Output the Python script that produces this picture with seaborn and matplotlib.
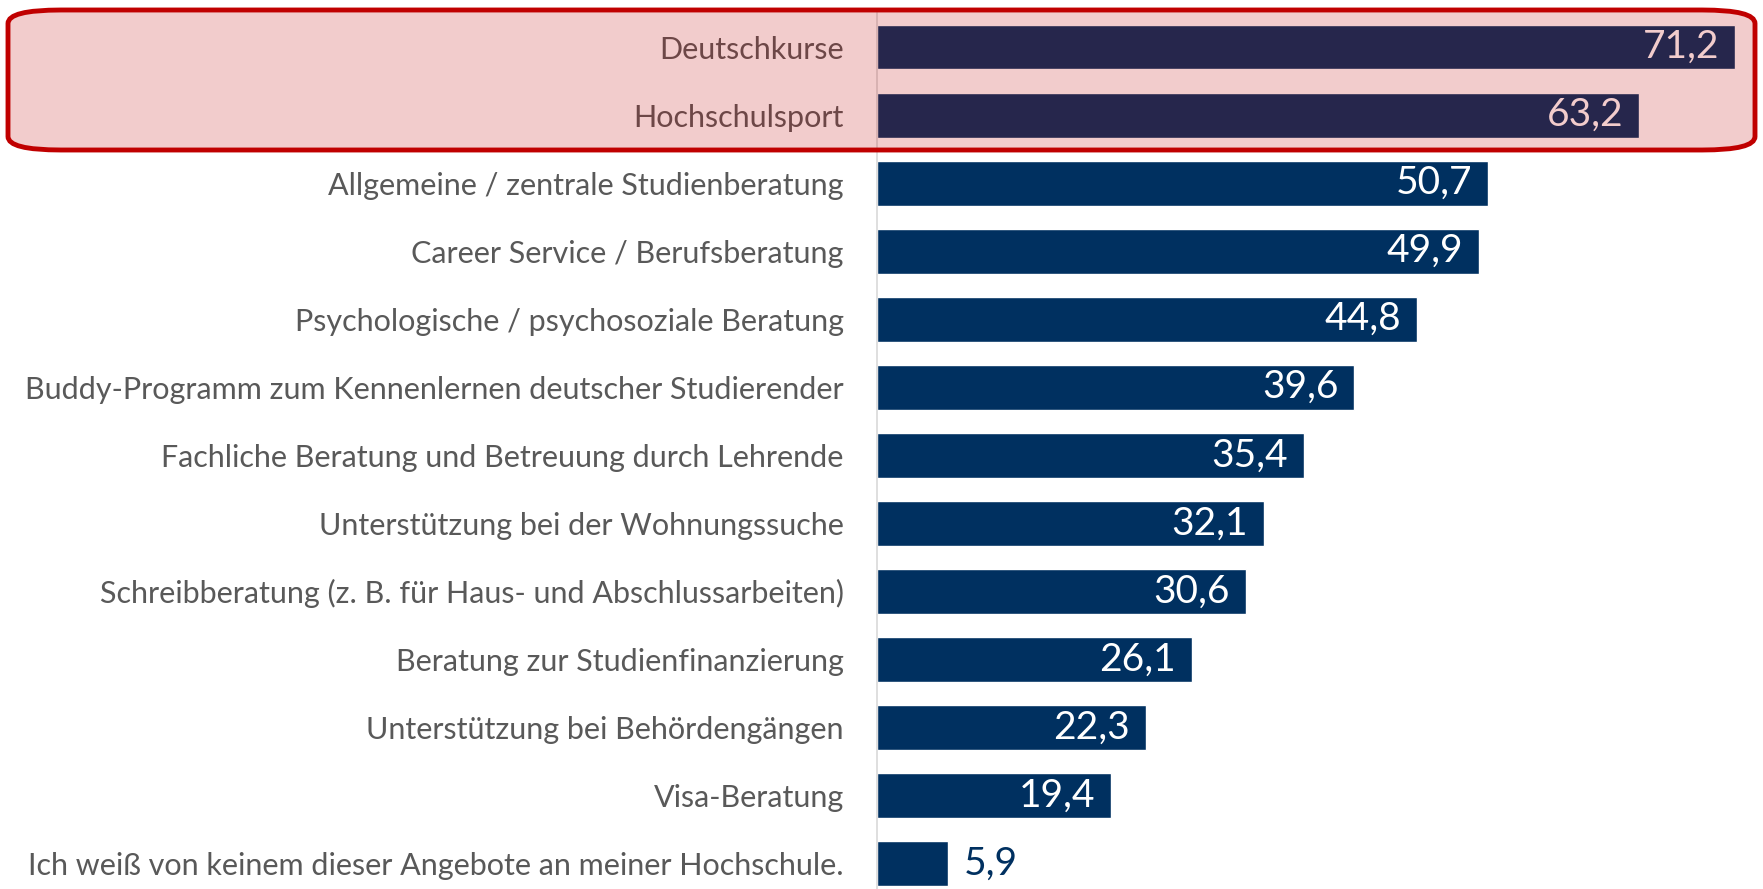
import matplotlib
matplotlib.use("Agg")
import matplotlib.pyplot as plt
from matplotlib.patches import FancyBboxPatch
import seaborn as sns
import pandas as pd

categories = [
    "Deutschkurse",
    "Hochschulsport",
    "Allgemeine / zentrale Studienberatung",
    "Career Service / Berufsberatung",
    "Psychologische / psychosoziale Beratung",
    "Buddy-Programm zum Kennenlernen deutscher Studierender",
    "Fachliche Beratung und Betreuung durch Lehrende",
    "Unterstützung bei der Wohnungssuche",
    "Schreibberatung (z. B. für Haus- und Abschlussarbeiten)",
    "Beratung zur Studienfinanzierung",
    "Unterstützung bei Behördengängen",
    "Visa-Beratung",
    "Ich weiß von keinem dieser Angebote an meiner Hochschule.",
]
values = [71.2, 63.2, 50.7, 49.9, 44.8, 39.6, 35.4, 32.1, 30.6, 26.1, 22.3, 19.4, 5.9]

df = pd.DataFrame({"Angebot": categories, "Anteil": values})

sns.set_theme(style="white")
plt.rcParams["font.family"] = ["Lato", "DejaVu Sans"]

W, H = 1763, 889
fig = plt.figure(figsize=(W / 100, H / 100), dpi=100)
ax = fig.add_axes([877 / W, 0, 1 - 877 / W, 1 - 13 / H])

bar_color = "#003060"
sns.barplot(data=df, x="Anteil", y="Angebot", orient="h", color=bar_color,
            width=0.66, saturation=1, ax=ax)

ax.set_xlim(0, 73.5)
ax.set_ylim(12.375, -0.5)
ax.set_xlabel("")
ax.set_ylabel("")
ax.set_xticks([])
for s in ["top", "right", "bottom"]:
    ax.spines[s].set_visible(False)
ax.spines["left"].set_color("#D9D9D9")
ax.spines["left"].set_linewidth(1.2)
ax.tick_params(axis="y", length=0, pad=24, labelsize=22, labelcolor="#595959")

for i, v in enumerate(values):
    txt = f"{v:.1f}".replace(".", ",")
    if v > 10:
        ax.text(v - 1.3, i, txt, ha="right", va="center", color="white", fontsize=28)
    else:
        ax.text(v + 1.3, i, txt, ha="left", va="center", color=bar_color, fontsize=28)

# highlight box over the first two rows
x0, y0, x1, y1 = 8 / W, 1 - 150 / H, 1755 / W, 1 - 10 / H
box = dict(boxstyle="round,pad=0,rounding_size=0.03", transform=fig.transFigure,
           mutation_aspect=H / W)
fill = FancyBboxPatch((x0, y0), x1 - x0, y1 - y0, facecolor="#C00000", alpha=0.2,
                      edgecolor="none", zorder=10, **box)
edge = FancyBboxPatch((x0, y0), x1 - x0, y1 - y0, facecolor="none", edgecolor="#C00000",
                      linewidth=3.5, zorder=11, **box)
fig.patches.extend([fill, edge])

fig.savefig("out.png", dpi=100)
